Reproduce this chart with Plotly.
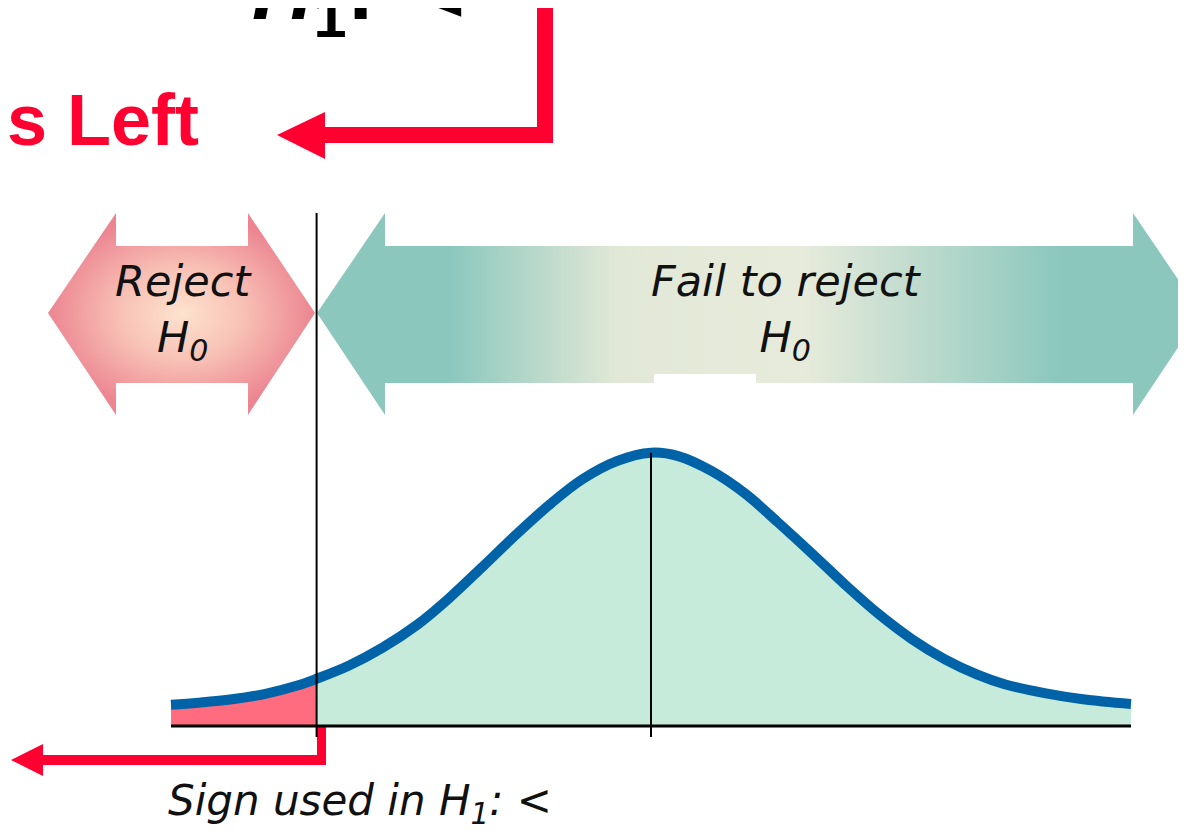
# left-tailed test diagram: rejection region for H1: <

import plotly.graph_objects as go

# the page body has an 8px margin, so the figure is drawn 8px smaller
OFF = 8
W, H = 1186 - OFF, 834 - OFF

# standard normal curve (z units, density)
z_vals = [-3.0, -2.83, -2.62, -2.41, -2.21, -2.09, -1.89, -1.68, -1.46, -1.26, -1.05,
          -0.84, -0.63, -0.43, -0.21, 0.0, 0.17, 0.38, 0.59, 0.79, 1.01, 1.21, 1.42,
          1.63, 1.84, 2.04, 2.21, 2.46, 2.70, 3.0]
density = [0.031, 0.034, 0.039, 0.047, 0.059, 0.069, 0.088, 0.114, 0.148, 0.187, 0.233,
           0.280, 0.324, 0.360, 0.387, 0.399, 0.394, 0.372, 0.339, 0.298, 0.251, 0.207,
           0.164, 0.127, 0.097, 0.075, 0.061, 0.048, 0.039, 0.032]
z_crit = -2.09

region_labels = ["Reject<br><i>H</i><sub>0</sub>", "Fail to reject<br><i>H</i><sub>0</sub>"]
sign_label = "Sign used in <i>H</i><sub>1</sub>: <"
title_label = "<b><i>H</i><sub>1</sub>:</b>"
title_sign = "<b><</b>"
side_label = "<b>Points Left</b>"

RED = "#FF0030"
BLUE = "#0063A8"
MINT = "#C6EBDA"
TAIL = "#FF6B7F"
HAND = "DejaVu Sans"


# helpers to place the decorations (pixel position -> axis / paper units)
def X(px):
    return (px - 651) / 160


def Y(py):
    return (726 - py) / 685


def PX(px):
    return (px - OFF) / W


def PY(py):
    return 1 - (py - OFF) / H


def poly(pts):
    return [X(p[0]) for p in pts], [Y(p[1]) for p in pts]


fig = go.Figure()

# pink double arrow (reject)
px_, py_ = poly([(48, 313), (116, 213), (116, 246), (248, 246), (248, 213), (315, 313),
                 (248, 415), (248, 383), (116, 383), (116, 415), (48, 313)])
fig.add_trace(go.Scatter(
    x=px_, y=py_, mode="lines", fill="toself", line=dict(width=0),
    fillgradient=dict(type="radial",
                      colorscale=[[0, "#FDE3CE"], [0.45, "#F8C2B6"], [1, "#EC8591"]]),
    hoverinfo="skip", showlegend=False))

# teal double arrow (fail to reject)
tx_, ty_ = poly([(317, 313), (385, 213), (385, 246), (1133, 246), (1133, 213), (1201, 313),
                 (1133, 415), (1133, 383), (385, 383), (385, 415), (317, 313)])
fig.add_trace(go.Scatter(
    x=tx_, y=ty_, mode="lines", fill="toself", line=dict(width=0),
    fillgradient=dict(type="horizontal", start=X(317), stop=X(1201),
                      colorscale=[[0, "#8BC7BC"], [0.15, "#8CC7BD"], [0.34, "#E2E8D7"],
                                  [0.55, "#E7EBDB"], [0.84, "#8CC7BD"], [1, "#8BC7BC"]]),
    hoverinfo="skip", showlegend=False))

# area under the curve: tail in red, rest in mint
tail = [i for i, z in enumerate(z_vals) if z <= z_crit]
rest = [i for i, z in enumerate(z_vals) if z >= z_crit]
fig.add_trace(go.Scatter(
    x=[z_vals[i] for i in tail], y=[density[i] for i in tail], mode="lines",
    line=dict(width=0, shape="spline"), fill="tozeroy", fillcolor=TAIL,
    hoverinfo="skip", showlegend=False))
fig.add_trace(go.Scatter(
    x=[z_vals[i] for i in rest], y=[density[i] for i in rest], mode="lines",
    line=dict(width=0, shape="spline"), fill="tozeroy", fillcolor=MINT,
    hoverinfo="skip", showlegend=False))

# the curve itself
fig.add_trace(go.Scatter(
    x=z_vals, y=density, mode="lines",
    line=dict(color=BLUE, width=10, shape="spline"),
    hoverinfo="skip", showlegend=False))

shapes = []
# little white notch in the teal band
shapes.append(dict(type="rect", x0=X(654), x1=X(756), y0=Y(383), y1=Y(374),
                   fillcolor="white", line_width=0, layer="above"))
# red arrows
for pts in ([(553, 8), (553, 143), (325, 143), (325, 159), (277, 135), (325, 112),
             (325, 127), (537, 127), (537, 8)],
            [(326, 727), (326, 765), (43, 765), (43, 776), (11, 760), (43, 744),
             (43, 755), (317, 755), (317, 727)]):
    path = "M " + " L ".join(f"{X(a)},{Y(b)}" for a, b in pts) + " Z"
    shapes.append(dict(type="path", path=path, fillcolor=RED, line_width=0, layer="above"))
# axis and marker lines
shapes.append(dict(type="line", x0=z_vals[0], x1=z_vals[-1], y0=0, y1=0,
                   line=dict(color="black", width=3), layer="above"))
shapes.append(dict(type="line", x0=z_crit, x1=z_crit, y0=Y(737), y1=Y(213),
                   line=dict(color="black", width=2), layer="above"))
shapes.append(dict(type="line", x0=0, x1=0, y0=Y(737), y1=max(density),
                   line=dict(color="black", width=2), layer="above"))

hand = dict(family=HAND, size=43, color="#111111", style="italic", weight=300)
big = dict(family="Liberation Sans", size=85, color="black")
annotations = [
    dict(x=X(183), y=Y(312), text=region_labels[0], showarrow=False, font=hand,
         align="center", xanchor="center", yanchor="middle"),
    dict(x=X(786), y=Y(312), text=region_labels[1], showarrow=False, font=hand,
         align="center", xanchor="center", yanchor="middle"),
    dict(x=X(166), y=Y(803), text=sign_label, showarrow=False,
         font=dict(hand, size=42), xanchor="left", yanchor="middle"),
    dict(x=X(201), y=Y(120), text=side_label, showarrow=False,
         font=dict(family="Liberation Sans", size=72, color=RED),
         xanchor="right", yanchor="middle"),
    dict(xref="paper", yref="paper", x=PX(250), y=PY(52), text=title_label,
         showarrow=False, font=big, xanchor="left", yanchor="bottom"),
    dict(xref="paper", yref="paper", x=PX(467), y=PY(42), text=title_sign,
         showarrow=False, font=big, xanchor="right", yanchor="bottom"),
]

fig.update_layout(
    width=W, height=H,
    margin=dict(l=0, r=0, t=0, b=0),
    paper_bgcolor="white", plot_bgcolor="white",
    shapes=shapes, annotations=annotations,
    xaxis=dict(range=[X(OFF), X(1186)], visible=False, fixedrange=True),
    yaxis=dict(range=[Y(834), Y(OFF)], visible=False, fixedrange=True),
)

fig.write_html("out.html")
